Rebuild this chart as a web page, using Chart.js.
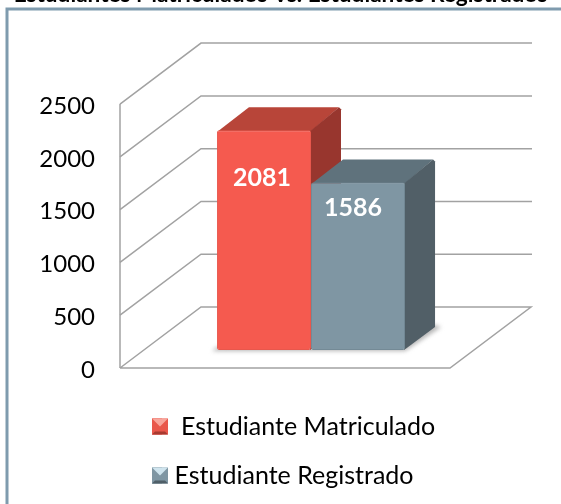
<!DOCTYPE html>
<html>
<head>
<meta charset="utf-8">
<title>Estudiantes Matriculados Vs. Estudiantes Registrados</title>
<script src="https://cdn.jsdelivr.net/npm/chart.js@4"></script>
<style>
  html, body { margin: 0; padding: 0; background: #fff; }
  canvas { display: block; }
</style>
</head>
<body>
<canvas id="chart" width="561" height="504"></canvas>
<script>
const chartTitle = 'Estudiantes Matriculados Vs. Estudiantes Registrados';
const categories = [''];
const seriesNames = ['Estudiante Matriculado', 'Estudiante Registrado'];
const matriculado = [2081];
const registrado = [1586];
const yTicks = [0, 500, 1000, 1500, 2000, 2500];

const FONT = 'Lato, "Open Sans", sans-serif';
const GRID = '#a2a2a2';
// depth of the fake 3D box and of the bars
const WALL = { dx: 81, dy: -61 };
const BAR_SHIFT = { dx: 26, dy: -18 };
const BAR_DEPTH = { dx: 30, dy: -23 };
const faces = [
  { top: '#b84539', side: '#98362e', swatch: ['#f8a59b', '#e9574b', '#a83a30'] },
  { top: '#5f727c', side: '#515f67', swatch: ['#cfe4ee', '#7f96a3', '#4f5f68'] }
];
const labelDrop = [48, 25];
const labelNudge = [-2, -5];
const LEGEND_GAP = 24;
const LEGEND_FONT = 25;

function poly(ctx, pts, fill) {
  ctx.beginPath();
  pts.forEach((p, i) => i ? ctx.lineTo(p[0], p[1]) : ctx.moveTo(p[0], p[1]));
  ctx.closePath();
  ctx.fillStyle = fill;
  ctx.fill();
}

const box3d = {
  id: 'box3d',
  afterLayout(chart) {
    // title runs the whole page width, legend sits lower and further right
    chart.titleBlock.left = 0;
    chart.titleBlock.right = 561;
    chart.legend.left += 8;
    chart.legend.right = 561;
    chart.legend.top = 390;
    chart.legend.bottom = 504;
  },
  beforeDraw(chart) {
    const ctx = chart.ctx;
    ctx.save();
    ctx.strokeStyle = '#7f9bae';
    ctx.lineWidth = 3;
    ctx.beginPath();
    ctx.moveTo(7, 510);
    ctx.lineTo(7, 9);
    ctx.lineTo(570, 9);
    ctx.stroke();
    ctx.restore();
  },
  beforeDatasetsDraw(chart) {
    const ctx = chart.ctx;
    const { left, right } = chart.chartArea;
    const y = chart.scales.y;
    const floor = y.getPixelForValue(0);

    ctx.save();
    ctx.strokeStyle = GRID;
    ctx.lineWidth = 1.5;
    yTicks.forEach(v => {
      const py = y.getPixelForValue(v);
      ctx.beginPath();
      ctx.moveTo(left, py);
      ctx.lineTo(left + WALL.dx, py + WALL.dy);
      if (v === 0) {
        ctx.lineTo(right + WALL.dx, py + WALL.dy);
        ctx.lineTo(right, py);
        ctx.lineTo(left, py);
      } else {
        ctx.lineTo(right + WALL.dx + 1, py + WALL.dy);
      }
      ctx.stroke();
    });
    ctx.beginPath();
    ctx.moveTo(left, floor);
    ctx.lineTo(left, y.getPixelForValue(yTicks[yTicks.length - 1]));
    ctx.stroke();
    ctx.restore();

    // bars stand inside the box, so everything of theirs is shifted back
    ctx.save();
    ctx.translate(BAR_SHIFT.dx, BAR_SHIFT.dy);

    const first = chart.getDatasetMeta(0).data[0];
    const last = chart.getDatasetMeta(1).data[0];
    ctx.save();
    ctx.filter = 'blur(2px)';
    poly(ctx, [
      [first.x - first.width / 2 - 5, floor + 1],
      [last.x + last.width / 2, floor + 1],
      [last.x + last.width / 2 + BAR_DEPTH.dx + 6, floor + BAR_DEPTH.dy],
      [last.x + last.width / 2 + BAR_DEPTH.dx, floor + BAR_DEPTH.dy - 2],
      [first.x - first.width / 2, floor - 3]
    ], '#b5b5b5');
    ctx.restore();

    chart.data.datasets.forEach((ds, i) => {
      const bar = chart.getDatasetMeta(i).data[0];
      const l = bar.x - bar.width / 2, r = bar.x + bar.width / 2;
      const { dx, dy } = BAR_DEPTH;
      poly(ctx, [[l + 1, bar.y + 1], [l + dx + 2, bar.y + dy], [r + dx - 2, bar.y + dy], [r, bar.y + 1]], faces[i].top);
      poly(ctx, [[r - 1, bar.y + 1], [r + dx - 2, bar.y + dy], [r + dx, bar.y + dy + 2], [r + dx, bar.base + dy], [r - 1, bar.base]], faces[i].side);
    });
  },
  afterDatasetsDraw(chart) {
    const ctx = chart.ctx;
    ctx.font = 'bold 25px ' + FONT;
    ctx.fillStyle = '#fff';
    ctx.textAlign = 'center';
    ctx.textBaseline = 'middle';
    chart.data.datasets.forEach((ds, i) => {
      const bar = chart.getDatasetMeta(i).data[0];
      ctx.fillText(String(ds.data[0]), bar.x + labelNudge[i], bar.y + labelDrop[i]);
    });
    ctx.restore();
  },
  afterDraw(chart) {
    // bevelled legend markers over the plain library boxes
    const ctx = chart.ctx;
    const s = 16;
    chart.legend.legendHitBoxes.forEach((hit, i) => {
      const x = chart.legend.left + LEGEND_GAP;
      const y = chart.legend.top + LEGEND_GAP + (LEGEND_FONT - s) / 2 + (LEGEND_FONT + LEGEND_GAP) * i;
      const c = faces[i].swatch;
      poly(ctx, [[x, y], [x + s, y], [x + s, y + s], [x, y + s]], c[1]);
      poly(ctx, [[x, y], [x + s, y], [x + s / 2, y + s / 2]], c[0]);
      poly(ctx, [[x, y + s], [x + s, y + s], [x + s - 3, y + s - 3], [x + 3, y + s - 3]], c[2]);
    });
  }
};

new Chart(document.getElementById('chart'), {
  type: 'bar',
  plugins: [box3d],
  data: {
    labels: categories,
    datasets: [
      { label: seriesNames[0], data: matriculado, backgroundColor: '#f55a4f', borderColor: '#e8574c', borderWidth: 1, clip: false },
      { label: seriesNames[1], data: registrado, backgroundColor: '#7f96a3', borderColor: '#748a96', borderWidth: 1, clip: false }
    ]
  },
  options: {
    responsive: false,
    animation: false,
    events: [],
    layout: { padding: { left: 0, right: 111, bottom: 28, top: 0 } },
    datasets: { bar: { categoryPercentage: 0.57, barPercentage: 1, borderRadius: 2, borderSkipped: false } },
    scales: {
      x: { display: false },
      y: {
        min: 0,
        max: 2500,
        afterFit(scale) { scale.width = 120; },
        afterBuildTicks(scale) { scale.ticks = yTicks.map(value => ({ value })); },
        grid: { display: false, drawTicks: false },
        border: { display: false },
        ticks: { color: '#000', padding: 25, labelOffset: 2, font: { family: FONT, size: 24 }, callback: v => String(v) }
      }
    },
    plugins: {
      tooltip: { enabled: false },
      title: {
        display: true,
        text: chartTitle,
        color: '#000',
        font: { family: FONT, size: 22.6, weight: 'bold' },
        padding: { top: -18.5, bottom: 95.5 }
      },
      legend: {
        position: 'bottom',
        fullSize: false,
        align: 'start',
        labels: {
          color: '#000',
          padding: LEGEND_GAP,
          boxWidth: 10,
          boxHeight: 16,
          font: { family: FONT, size: LEGEND_FONT },
          generateLabels(chart) {
            return chart.data.datasets.map((ds, i) => ({
              text: (i === 0 ? ' ' : '') + ds.label,
              fillStyle: ds.backgroundColor,
              strokeStyle: ds.backgroundColor,
              lineWidth: 0,
              datasetIndex: i
            }));
          }
        }
      }
    }
  }
});
</script>
</body>
</html>
